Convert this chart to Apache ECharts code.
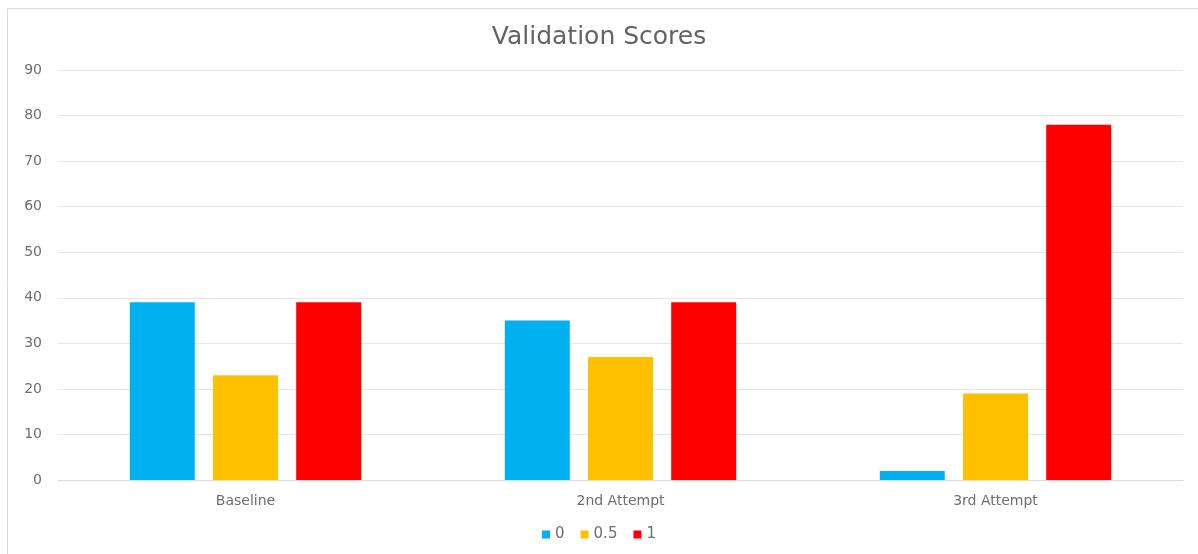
<!DOCTYPE html>
<html>
<head>
<meta charset="utf-8">
<script src="https://cdn.jsdelivr.net/npm/echarts@6/dist/echarts.min.js"></script>
<style>
  html, body { margin: 0; padding: 0; background: #fff; }
  #chart { width: 1198px; height: 554px; }
</style>
</head>
<body>
<div id="chart"></div>
<script>
var categories = ["Baseline", "2nd Attempt", "3rd Attempt"];
var seriesNames = ["0", "0.5", "1"];
var values0 = [39, 35, 2];
var values05 = [23, 27, 19];
var values1 = [39, 39, 78];
var colors = ["#00B0F0", "#FFC000", "#FF0000"];

var chart = echarts.init(document.getElementById("chart"));
var textColor = "#6e6e6e";
var font = "DejaVu Sans";

var options = {
  animation: false,
  color: colors,
  textStyle: { fontFamily: font },
  graphic: [
    {
      type: "rect",
      shape: { x: 7.5, y: 8.5, width: 1200, height: 560 },
      style: { fill: "none", stroke: "#d9d9d9", lineWidth: 1 }
    }
  ],
  title: {
    text: "Validation Scores",
    left: "center",
    top: 20,
    textStyle: { color: "#636363", fontSize: 25, fontWeight: "normal", fontFamily: font }
  },
  legend: {
    bottom: 7,
    left: "center",
    itemWidth: 8,
    itemHeight: 8,
    itemGap: 16,
    icon: "rect",
    textStyle: { color: textColor, fontSize: 15, fontFamily: font },
    data: seriesNames
  },
  grid: { left: 58, right: 15, top: 70, bottom: 74 },
  xAxis: {
    type: "category",
    data: categories,
    axisLine: { lineStyle: { color: "#d9d9d9" } },
    axisTick: { show: false },
    axisLabel: { color: textColor, fontSize: 14, margin: 14 }
  },
  yAxis: {
    type: "value",
    min: 0,
    max: 90,
    interval: 10,
    axisLine: { show: false },
    axisTick: { show: false },
    splitLine: { lineStyle: { color: "#e6e6e6" } },
    axisLabel: { color: textColor, fontSize: 14, margin: 16 }
  },
  series: [
    { name: seriesNames[0], type: "bar", data: values0, barWidth: 65, barGap: "28%" },
    { name: seriesNames[1], type: "bar", data: values05, barWidth: 65, barGap: "28%" },
    { name: seriesNames[2], type: "bar", data: values1, barWidth: 65, barGap: "28%" }
  ]
};

chart.setOption(options);
</script>
</body>
</html>
